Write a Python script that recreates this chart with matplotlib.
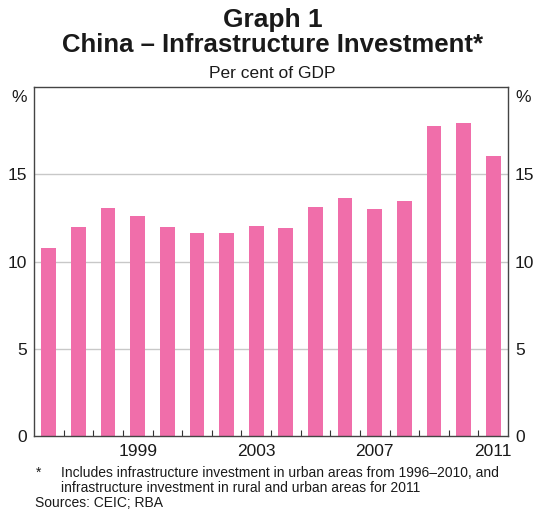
import matplotlib
matplotlib.use('Agg')
import matplotlib.pyplot as plt
import numpy as np

plt.rcParams['font.family'] = ['Liberation Sans', 'DejaVu Sans']

YEARS = list(range(1996, 2012))
INVEST = [10.75, 11.95, 13.05, 12.6, 11.95, 11.65, 11.65, 12.05,
          11.9, 13.1, 13.65, 13.0, 13.45, 17.75, 17.95, 16.05]
LABEL_YEARS = [1999, 2003, 2007, 2011]
Y_TICKS = [0, 5, 10, 15]

BAR_COLOR = '#F06EAA'
GRID_COLOR = '#C8C8C8'
TXT = '#1a1a1a'

W, H = 545, 511
AX_L, AX_R, AX_T, AX_B = 34, 508, 87, 436

fig = plt.figure(figsize=(W / 100, H / 100), dpi=100)
ax = fig.add_axes([AX_L / W, 1 - AX_B / H, (AX_R - AX_L) / W, (AX_B - AX_T) / H])
ax_w = AX_R - AX_L
ax_h = AX_B - AX_T

x = np.arange(len(YEARS))
ax.bar(x, INVEST, width=0.5, color=BAR_COLOR, zorder=2)

ax.set_xlim(-0.5, len(YEARS) - 0.5)
ax.set_ylim(0, 20)

# horizontal grid at the labelled levels
for y in Y_TICKS[1:]:
    ax.axhline(y, color=GRID_COLOR, lw=1, zorder=1)

ax.set_yticks(Y_TICKS)
ax.tick_params(axis='y', length=0, labelsize=12.5, pad=5,
               right=True, labelright=True, colors=TXT)

# year boundaries as small inward ticks, labels under the bars
ax.set_xticks(x[:-1] + 0.5, minor=True)
ax.set_xticks([YEARS.index(yr) for yr in LABEL_YEARS])
ax.set_xticklabels([str(yr) for yr in LABEL_YEARS])
ax.tick_params(axis='x', which='major', length=0, labelsize=12.5, pad=6,
               colors=TXT)
ax.tick_params(axis='x', which='minor', length=4, direction='in',
               width=0.8, color='#333333')

for sp in ax.spines.values():
    sp.set_color('#444444')
    sp.set_linewidth(1.0)

# unit labels above the tick labels on both sides
ax.text(-7 / ax_w, 1 - 10 / ax_h, '%', transform=ax.transAxes, ha='right',
        va='center', fontsize=12.5, color=TXT)
ax.text(1 + 7 / ax_w, 1 - 10 / ax_h, '%', transform=ax.transAxes, ha='left',
        va='center', fontsize=12.5, color=TXT)

fig.text(0.5, 1 - 27 / H, 'Graph 1', ha='center', va='baseline',
         fontsize=19, fontweight='bold', color=TXT)
fig.text(0.5, 1 - 52 / H, 'China \u2013 Infrastructure Investment*',
         ha='center', va='baseline', fontsize=18.5, fontweight='bold',
         color=TXT)
fig.text(0.5, 1 - 78 / H, 'Per cent of GDP', ha='center', va='baseline',
         fontsize=12.5, color=TXT)

fig.text(36 / W, 1 - 477 / H, '*', ha='left', va='baseline', fontsize=10,
         color=TXT)
fig.text(61 / W, 1 - 477 / H,
         'Includes infrastructure investment in urban areas from 1996\u20132010, and',
         ha='left', va='baseline', fontsize=10, color=TXT)
fig.text(61 / W, 1 - 492 / H,
         'infrastructure investment in rural and urban areas for 2011',
         ha='left', va='baseline', fontsize=10, color=TXT)
fig.text(35 / W, 1 - 507 / H, 'Sources: CEIC; RBA', ha='left', va='baseline',
         fontsize=10, color=TXT)

fig.savefig('out.png', dpi=100)
